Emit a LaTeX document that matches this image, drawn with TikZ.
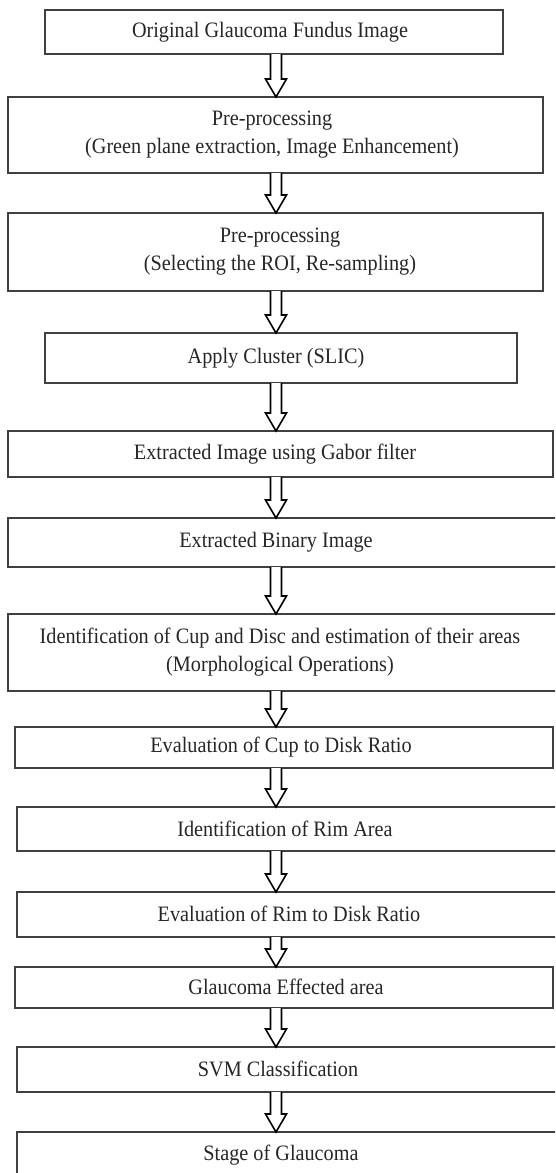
\documentclass[tikz,border=0pt]{standalone}
\usepackage{fontspec}
\setmainfont{Liberation Serif}[FakeStretch=0.92]
\usetikzlibrary{calc,fit}

% hollow block arrow between two boxes, on the common axis
\newcommand{\flowarrow}[2]{%
  \draw [arr] let \p1=(#1.south -| axis), \p2=(#2.north -| axis) in
    (\x1-5.5pt,\y1) -- (\x1-5.5pt,\y2+18pt) -- (\x1-10.5pt,\y2+18pt) -- (\x2,\y2)
    -- (\x1+10.5pt,\y2+18pt) -- (\x1+5.5pt,\y2+18pt) -- (\x1+5.5pt,\y1);}

\begin{document}
\begin{tikzpicture}[
    x=1pt, y=-1pt,
    box/.style={rectangle, draw=black!75, line width=1.1pt, inner sep=0pt, outer sep=0pt},
    txt/.style={align=center, font=\fontsize{22}{28}\selectfont, text=black!85, inner sep=0pt},
    arr/.style={draw=black, line width=1.6pt, fill=white, line join=miter}
]
    \useasboundingbox (0,0) rectangle (555,1173);
    \clip (0,0) rectangle (555,1173);
    \coordinate (axis) at (276,0);

    % boxes
    \node [box, fit={(45,10) (503,54)}] (b1) {};
    \node [box, fit={(8,97) (543,173)}] (b2) {};
    \node [box, fit={(8,213) (543,291)}] (b3) {};
    \node [box, fit={(45,333) (517,383)}] (b4) {};
    \node [box, fit={(8,431) (553,477)}] (b5) {};
    \node [box, fit={(8,518) (562,567)}] (b6) {};
    \node [box, fit={(8,614) (562,691)}] (b7) {};
    \node [box, fit={(15,727) (553,768)}] (b8) {};
    \node [box, fit={(17,807) (562,851)}] (b9) {};
    \node [box, fit={(17,892) (562,937)}] (b10) {};
    \node [box, fit={(15,967) (553,1008)}] (b11) {};
    \node [box, fit={(17,1047) (562,1092)}] (b12) {};
    \node [box, fit={(17,1132) (562,1190)}] (b13) {};

    % labels
    \node [txt] (t1) at (270,32) {Original Glaucoma Fundus Image};
    \node [txt] (t2) at (272,135) {Pre-processing\\(Green plane extraction, Image Enhancement)};
    \node [txt] (t3) at (280,252) {Pre-processing\\(Selecting the ROI, Re-sampling)};
    \node [txt] (t4) at (276,358) {Apply Cluster (SLIC)};
    \node [txt] (t5) at (275,454) {Extracted Image using Gabor filter};
    \node [txt] (t6) at (276,542) {Extracted Binary Image};
    \node [txt] (t7) at (280,652) {Identification of Cup and Disc and estimation of their areas\\(Morphological Operations)};
    \node [txt] (t8) at (281,747) {Evaluation of Cup to Disk Ratio};
    \node [txt] (t9) at (285,829) {Identification of Rim Area};
    \node [txt] (t10) at (289,914) {Evaluation of Rim to Disk Ratio};
    \node [txt] (t11) at (286,987) {Glaucoma Effected area};
    \node [txt] (t12) at (278,1069) {SVM Classification};
    \node [txt] (t13) at (281,1155) {Stage of Glaucoma};

    % arrows
    \foreach \a/\b in {b1/b2, b2/b3, b3/b4, b4/b5, b5/b6, b6/b7, b7/b8,
                       b8/b9, b9/b10, b10/b11, b11/b12, b12/b13}
        {\flowarrow{\a}{\b}}
\end{tikzpicture}
\end{document}
